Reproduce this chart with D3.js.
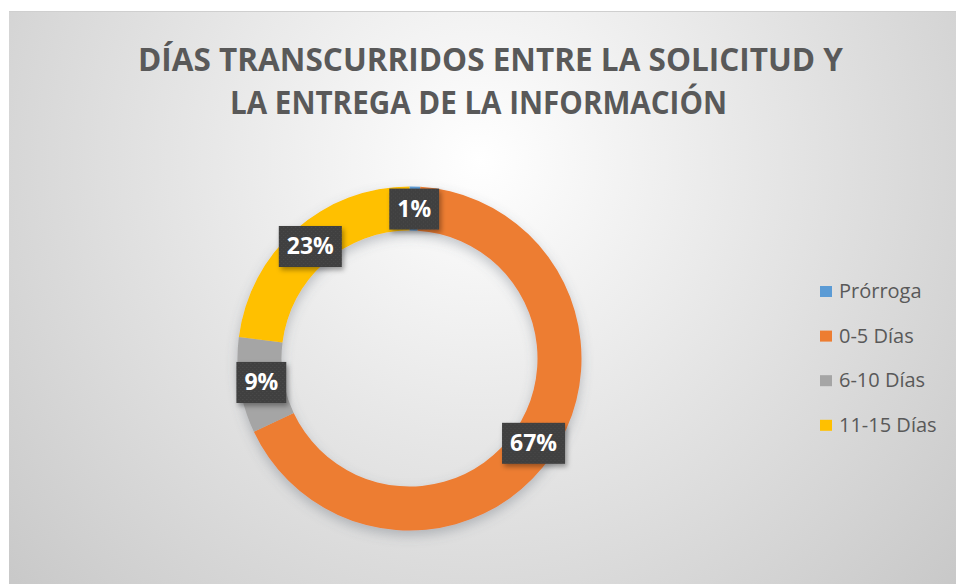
<!DOCTYPE html>
<html>
<head>
<meta charset="utf-8">
<script src="https://cdn.jsdelivr.net/npm/d3@7"></script>
<style>
  body { margin: 0; background: #fff; }
  svg { display: block; }
</style>
</head>
<body>
<svg id="vis" width="956" height="584"></svg>
<script>
// data
const categories = ["Prórroga", "0-5 Días", "6-10 Días", "11-15 Días"];
const values = [1, 67, 9, 23];
const colors = ["#5B9BD5", "#ED7D31", "#A5A5A5", "#FFC000"];
const titleLines = ["DÍAS TRANSCURRIDOS ENTRE LA SOLICITUD Y", "LA ENTREGA DE LA INFORMACIÓN"];

const svg = d3.select("#vis");
const defs = svg.append("defs");

// background gradient, light at the top middle
const grad = defs.append("radialGradient")
    .attr("id", "bg")
    .attr("gradientUnits", "userSpaceOnUse")
    .attr("cx", 480).attr("cy", 160).attr("r", 640);
grad.append("stop").attr("offset", "0%").attr("stop-color", "#ffffff");
grad.append("stop").attr("offset", "45%").attr("stop-color", "#e6e6e6");
grad.append("stop").attr("offset", "100%").attr("stop-color", "#c8c8c8");

const shadow = defs.append("filter").attr("id", "shadow")
    .attr("x", "-20%").attr("y", "-20%").attr("width", "140%").attr("height", "140%");
shadow.append("feDropShadow")
    .attr("dx", 0).attr("dy", 5).attr("stdDeviation", 6)
    .attr("flood-color", "#5a6470").attr("flood-opacity", 0.35);

const lblShadow = defs.append("filter").attr("id", "lblShadow")
    .attr("x", "-30%").attr("y", "-30%").attr("width", "160%").attr("height", "160%");
lblShadow.append("feDropShadow")
    .attr("dx", 2).attr("dy", 3).attr("stdDeviation", 2.5)
    .attr("flood-color", "#000").attr("flood-opacity", 0.35);

// little dotted texture for the label boxes
const pat = defs.append("pattern").attr("id", "dots")
    .attr("patternUnits", "userSpaceOnUse").attr("width", 4).attr("height", 4);
pat.append("rect").attr("width", 4).attr("height", 4).attr("fill", "#3f3f3f");
pat.append("rect").attr("x", 1).attr("y", 1).attr("width", 1).attr("height", 1).attr("fill", "#4d4d4d");
pat.append("rect").attr("x", 3).attr("y", 3).attr("width", 1).attr("height", 1).attr("fill", "#4a4a4a");

svg.append("rect")
    .attr("x", 9).attr("y", 11).attr("width", 947).attr("height", 573)
    .attr("fill", "url(#bg)");
svg.append("line")
    .attr("x1", 9).attr("x2", 956).attr("y1", 11.5).attr("y2", 11.5)
    .attr("stroke", "#cfcfcf");

// title
svg.append("g").selectAll("text")
    .data(titleLines)
    .join("text")
    .attr("x", (d, i) => i == 0 ? 138 : 230)
    .attr("y", (d, i) => i == 0 ? 71 : 114)
    .attr("textLength", (d, i) => i == 0 ? 705 : 497)
    .attr("lengthAdjust", "spacingAndGlyphs")
    .style("font-family", "'Open Sans', sans-serif")
    .style("font-weight", 700)
    .style("font-size", "32px")
    .style("fill", "#595959")
    .text(d => d);

// donut
const cx = 409.5, cy = 358.5;
const rOuter = 172, rInner = 128;
const total = d3.sum(values);

const pie = d3.pie().sort(null).value(d => d);
const arcs = pie(values);
const arc = d3.arc().innerRadius(rInner).outerRadius(rOuter);

const g = svg.append("g").attr("transform", `translate(${cx},${cy})`);

g.append("g")
    .attr("filter", "url(#shadow)")
    .selectAll("path")
    .data(arcs)
    .join("path")
    .attr("d", arc)
    .attr("fill", (d, i) => colors[i]);

// data labels
const fmt = d3.format(".0%");
const labels = g.selectAll("g.lbl")
    .data(arcs)
    .join("g")
    .attr("class", "lbl")
    .attr("transform", d => `translate(${arc.centroid(d)})`);

const box = labels.append("rect")
    .attr("fill", "url(#dots)")
    .attr("filter", "url(#lblShadow)");

const txt = labels.append("text")
    .attr("text-anchor", "middle")
    .attr("dy", "0.36em")
    .style("font-family", "'Open Sans', sans-serif")
    .style("font-weight", 700)
    .style("font-size", "23px")
    .style("fill", "#ffffff")
    .text(d => fmt(d.value / total));

txt.each(function (d) {
    const w = this.getComputedTextLength() + 16;
    d3.select(this.parentNode).select("rect")
        .attr("x", -w / 2).attr("y", -20)
        .attr("width", w).attr("height", 41);
});

// legend
const legend = svg.append("g").attr("transform", "translate(820,286)");
const item = legend.selectAll("g")
    .data(categories)
    .join("g")
    .attr("transform", (d, i) => `translate(0,${i * 44.6})`);

item.append("rect")
    .attr("width", 12).attr("height", 11)
    .attr("fill", (d, i) => colors[i]);

item.append("text")
    .attr("x", 19).attr("y", 12)
    .style("font-family", "'Open Sans', sans-serif")
    .style("font-size", "20px")
    .style("fill", "#595959")
    .text(d => d);
</script>
</body>
</html>
